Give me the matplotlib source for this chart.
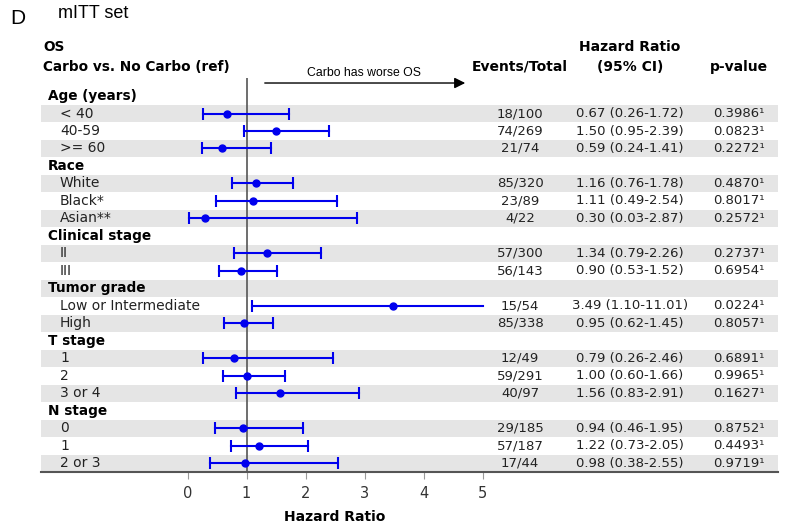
import numpy as np
import matplotlib
matplotlib.use("Agg")
import matplotlib.pyplot as plt
from matplotlib.transforms import blended_transform_factory

# rows of the forest plot
groups = ["Age (years)", "Race", "Clinical stage", "Tumor grade", "T stage", "N stage"]
subgroups = [
    ["< 40", "40-59", ">= 60"],
    ["White", "Black*", "Asian**"],
    ["II", "III"],
    ["Low or Intermediate", "High"],
    ["1", "2", "3 or 4"],
    ["0", "1", "2 or 3"],
]
hr = [0.67, 1.50, 0.59, 1.16, 1.11, 0.30, 1.34, 0.90, 3.49, 0.95,
      0.79, 1.00, 1.56, 0.94, 1.22, 0.98]
ci_low = [0.26, 0.95, 0.24, 0.76, 0.49, 0.03, 0.79, 0.53, 1.10, 0.62,
          0.26, 0.60, 0.83, 0.46, 0.73, 0.38]
ci_high = [1.72, 2.39, 1.41, 1.78, 2.54, 2.87, 2.26, 1.52, 11.01, 1.45,
           2.46, 1.66, 2.91, 1.95, 2.05, 2.55]
events = ["18/100", "74/269", "21/74", "85/320", "23/89", "4/22", "57/300",
          "56/143", "15/54", "85/338", "12/49", "59/291", "40/97", "29/185",
          "57/187", "17/44"]
pvals = ["0.3986", "0.0823", "0.2272", "0.4870", "0.8017", "0.2572", "0.2737",
         "0.6954", "0.0224", "0.8057", "0.6891", "0.9965", "0.1627", "0.8752",
         "0.4493", "0.9719"]
ticks = [0, 1, 2, 3, 4, 5]

W, H = 786, 529
fig = plt.figure(figsize=(W / 100, H / 100), dpi=100)

px0, px1 = 41, 778          # axes horizontal extent in pixels
x0_px, unit = 187.5, 59.0   # pixel of HR=0 and pixels per unit
ytop_px, ybot_px = 78, 472
row0_px, row_h = 96, 17.45

ax = fig.add_axes([px0 / W, 1 - ybot_px / H, (px1 - px0) / W, (ybot_px - ytop_px) / H])
ax.set_xlim((px0 - x0_px) / unit, (px1 - x0_px) / unit)
n_rows = len(groups) + sum(len(s) for s in subgroups)
ax.set_ylim(-(n_rows - 1) - 0.5, (row0_px - ytop_px) / row_h)

blue = "#0000EE"
tr = blended_transform_factory(fig.transFigure, ax.transData)

row = 0
k = 0
for g, subs in zip(groups, subgroups):
    if row % 2 == 1:
        ax.axhspan(-row - 0.5, -row + 0.5, color="#E5E5E5", lw=0, zorder=0)
    fig.text(48 / W, -row, g, transform=tr, fontsize=9.8, fontweight="bold",
             va="center", ha="left")
    row += 1
    for s in subs:
        y = -row
        if row % 2 == 1:
            ax.axhspan(y - 0.5, y + 0.5, color="#E5E5E5", lw=0, zorder=0)
        fig.text(60 / W, y, s, transform=tr, fontsize=10, va="center",
                 ha="left", color="#222222")
        hi = min(ci_high[k], 5.0)
        ax.plot([ci_low[k], hi], [y, y], color=blue, lw=1.5, zorder=3)
        ax.plot([ci_low[k]], [y], marker="|", color=blue, ms=8, mew=1.5, zorder=3)
        if ci_high[k] <= 5:
            ax.plot([hi], [y], marker="|", color=blue, ms=8, mew=1.5, zorder=3)
        ax.plot([hr[k]], [y], marker="o", color=blue, ms=5, zorder=4)
        fig.text(520 / W, y, events[k], transform=tr, fontsize=9.5,
                 va="center", ha="center", color="#222222")
        fig.text(630 / W, y, f"{hr[k]:.2f} ({ci_low[k]:.2f}-{ci_high[k]:.2f})",
                 transform=tr, fontsize=9.5, va="center", ha="center",
                 color="#222222")
        fig.text(739 / W, y, pvals[k] + "\u00b9", transform=tr, fontsize=9.5,
                 va="center", ha="center", color="#222222")
        row += 1
        k += 1

ax.axvline(1, color="#555555", lw=1.2, zorder=2)

for sp in ["top", "left", "right"]:
    ax.spines[sp].set_visible(False)
ax.spines["bottom"].set_color("#555555")
ax.spines["bottom"].set_linewidth(1.5)
ax.set_yticks([])
ax.set_xticks(ticks)
ax.set_xticklabels([str(t) for t in ticks])
ax.tick_params(axis="x", length=5, color="#999999", labelsize=10.5,
               labelcolor="#333333", pad=5)

# arrow annotation
def ypx(p):
    return (row0_px - p) / row_h

ax.annotate("", xy=((468 - x0_px) / unit, ypx(83)), xytext=((262 - x0_px) / unit, ypx(83)),
            arrowprops=dict(arrowstyle="-|>", color="black", lw=1, mutation_scale=16),
            annotation_clip=False)
ax.text((364 - x0_px) / unit, ypx(73), "Carbo has worse OS", ha="center", va="center",
        fontsize=8.8, family="Liberation Sans", clip_on=False)

# header texts
fig.text(43 / W, 1 - 47 / H, "OS", fontsize=9.8, fontweight="bold", va="center")
fig.text(43 / W, 1 - 67 / H, "Carbo vs. No Carbo (ref)", fontsize=9.8,
         fontweight="bold", va="center")
fig.text(520 / W, 1 - 67 / H, "Events/Total", fontsize=10, fontweight="bold",
         va="center", ha="center")
fig.text(630 / W, 1 - 47 / H, "Hazard Ratio", fontsize=10, fontweight="bold",
         va="center", ha="center")
fig.text(630 / W, 1 - 67 / H, "(95% CI)", fontsize=10, fontweight="bold",
         va="center", ha="center")
fig.text(739 / W, 1 - 67 / H, "p-value", fontsize=10, fontweight="bold",
         va="center", ha="center")
fig.text(335 / W, 1 - 517 / H, "Hazard Ratio", fontsize=10, fontweight="bold",
         va="center", ha="center")

fig.text(10 / W, 1 - 18 / H, "D", fontsize=15, family="Liberation Sans", va="center")
fig.text(58 / W, 1 - 13 / H, "mITT set", fontsize=13, family="Liberation Sans",
         va="center")

fig.savefig("out.png", dpi=100)
